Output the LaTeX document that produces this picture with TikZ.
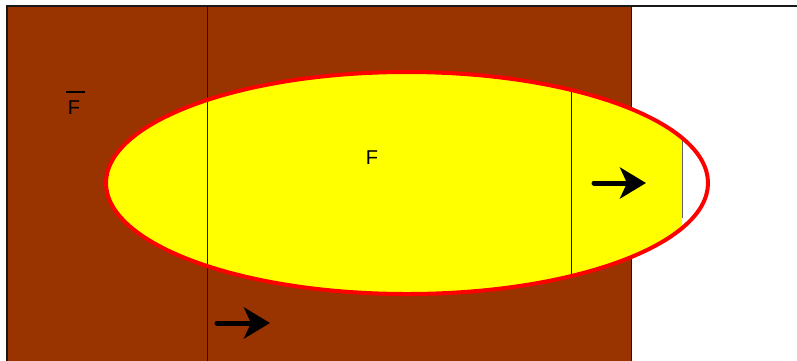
\documentclass[tikz,border=0pt]{standalone}
\usepackage{fontspec}
\setmainfont{Liberation Sans}
\usetikzlibrary{arrows.meta}
\definecolor{brownbg}{HTML}{993300}
\definecolor{yel}{HTML}{FFFF00}
\definecolor{redline}{HTML}{FF0000}
\tikzset{
  thinline/.style={draw=black!90, line width=0.8pt},
  bigarrow/.style={line width=5pt, line cap=round, -{Stealth[length=26pt,width=31pt,inset=7pt]}},
  lbl/.style={font=\fontsize{20}{24}\selectfont, inner sep=0pt}
}
\begin{document}
\begin{tikzpicture}[x=1pt,y=-1pt]
\useasboundingbox (0,0) rectangle (797,360);
% brown region
\fill[brownbg] (7,6) rectangle (631,362);
\draw[thinline, line width=1.3pt] (7,362) -- (7,6) -- (797,6);
\draw[thinline] (631,6) -- (631,362);
% ellipse fill clipped
\begin{scope}
  \clip (0,0) rectangle (682,360);
  \fill[yel] (407,183) ellipse [x radius=301, y radius=111];
\end{scope}
% line inside ellipse
\begin{scope}
  \clip (407,183) ellipse [x radius=301, y radius=111];
  \draw[thinline] (571,0) -- (571,360);
\end{scope}
\draw[draw=black!60, line width=0.8pt] (682,138) -- (682,218);
\draw[thinline] (207,6) -- (207,362);
\draw[redline, line width=4pt] (407,183) ellipse [x radius=301, y radius=111];
% arrows
\coordinate (a1s) at (594,183);
\coordinate (a1e) at (646,183);
\coordinate (a2s) at (217,323);
\coordinate (a2e) at (270,323);
\draw[bigarrow] (a1s) -- (a1e);
\draw[bigarrow] (a2s) -- (a2e);
% labels
\node[lbl] (F) at (372,158) {F};
\node[lbl] (Fbar) at (74,108) {F};
\draw[line width=2pt] (66,92) -- (85,92);
\end{tikzpicture}
\end{document}
